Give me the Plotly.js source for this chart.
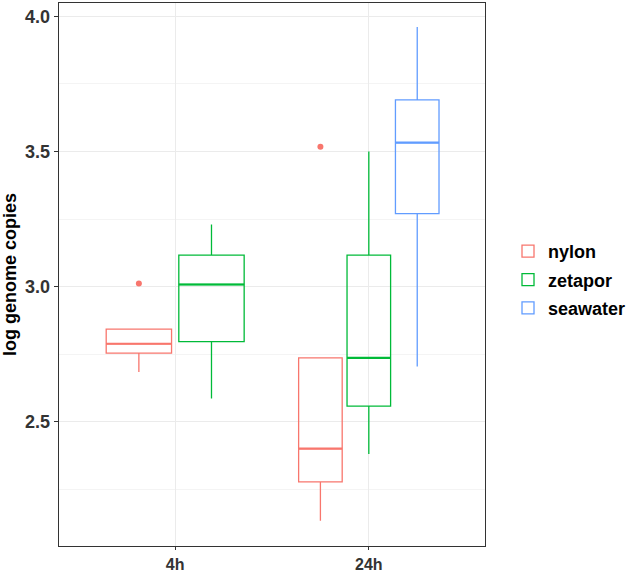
<!DOCTYPE html>
<html>
<head>
<meta charset="utf-8">
<script src="https://cdn.plot.ly/plotly-3.0.1.min.js"></script>
<style>html,body{margin:0;padding:0;background:#fff;}#chart{width:634px;height:575px;}</style>
</head>
<body>
<div id="chart"></div>
<script>
// Data
const categories = ['4h', '24h'];
const seriesNames = ['nylon', 'zetapor', 'seawater'];
const seriesColors = ['#F8766D', '#00BA38', '#619CFF'];

const nylonQ1 = [2.754, 2.278];
const nylonMedian = [2.789, 2.401];
const nylonQ3 = [2.843, 2.737];
const nylonLower = [2.684, 2.134];
const nylonUpper = [2.843, 2.737];
const nylonOutliers = [[3.012], [3.517]];

const zetaporQ1 = [2.797, 2.558];
const zetaporMedian = [3.008, 2.737];
const zetaporQ3 = [3.117, 3.117];
const zetaporLower = [2.586, 2.381];
const zetaporUpper = [3.230, 3.500];
const zetaporOutliers = [[], []];

const seawaterQ1 = [null, 3.270];
const seawaterMedian = [null, 3.533];
const seawaterQ3 = [null, 3.691];
const seawaterLower = [null, 2.705];
const seawaterUpper = [null, 3.960];
const seawaterOutliers = [[], []];

const yTicks = [2.5, 3.0, 3.5, 4.0];

const stats = [
  {q1: nylonQ1, med: nylonMedian, q3: nylonQ3, lo: nylonLower, hi: nylonUpper, out: nylonOutliers},
  {q1: zetaporQ1, med: zetaporMedian, q3: zetaporQ3, lo: zetaporLower, hi: zetaporUpper, out: zetaporOutliers},
  {q1: seawaterQ1, med: seawaterMedian, q3: seawaterQ3, lo: seawaterLower, hi: seawaterUpper, out: seawaterOutliers}
];

const traces = [];
const legendShown = [false, false, false];
const dodge = 0.75;
categories.forEach((cat, ci) => {
  const present = seriesNames.map((s, si) => si).filter(si => stats[si].med[ci] !== null);
  const n = present.length;
  present.forEach((si, k) => {
    const st = stats[si];
    const pos = (ci + 1) + (k - (n - 1) / 2) * dodge / n;
    const w = dodge / n * 0.9;
    traces.push({
      type: 'box',
      name: seriesNames[si],
      legendgroup: seriesNames[si],
      showlegend: !legendShown[si],
      x: [pos],
      q1: [st.q1[ci]], median: [st.med[ci]], q3: [st.q3[ci]],
      lowerfence: [st.lo[ci]], upperfence: [st.hi[ci]],
      width: w,
      whiskerwidth: 0,
      boxpoints: false,
      fillcolor: 'rgba(255,255,255,0)',
      line: {color: seriesColors[si], width: 1.3},
      hoverinfo: 'skip'
    });
    legendShown[si] = true;
    // thicker median line as in ggplot
    traces.push({
      type: 'scatter', mode: 'lines', showlegend: false, hoverinfo: 'skip',
      x: [pos - w / 2, pos + w / 2], y: [st.med[ci], st.med[ci]],
      line: {color: seriesColors[si], width: 2.2}
    });
    if (st.out[ci].length) {
      traces.push({
        type: 'scatter', mode: 'markers', showlegend: false, hoverinfo: 'skip',
        x: st.out[ci].map(() => pos), y: st.out[ci],
        marker: {color: seriesColors[si], size: 6}
      });
    }
  });
});

const fam = 'Liberation Sans, Arial, sans-serif';
const tickFont = {family: fam, size: 18, color: '#333333', weight: 'bold'};

const layout = {
  width: 634, height: 575,
  margin: {l: 59, r: 149, t: 3, b: 29},
  paper_bgcolor: '#ffffff', plot_bgcolor: '#ffffff',
  showlegend: true,
  legend: {
    x: 1.054, xanchor: 'left', y: 0.49, yanchor: 'middle',
    font: {family: fam, size: 18, color: '#000000', weight: 'bold'},
    tracegroupgap: 2, bgcolor: 'rgba(0,0,0,0)'
  },
  xaxis: {
    range: [0.4, 2.6],
    tickmode: 'array', tickvals: categories.map((c, i) => i + 1), ticktext: categories,
    tickfont: {family: fam, size: 16, color: '#333333', weight: 'bold'},
    showgrid: true, gridcolor: '#ebebeb', gridwidth: 1,
    zeroline: false,
    showline: true, mirror: true, linecolor: '#333333', linewidth: 1.3,
    ticks: 'outside', ticklen: 3, tickcolor: '#333333', tickwidth: 1
  },
  yaxis: {
    range: [2.041, 4.049],
    tickmode: 'array', tickvals: yTicks, ticktext: yTicks.map(v => v.toFixed(1)),
    tickfont: tickFont,
    title: {text: 'log genome copies', font: {family: fam, size: 18, color: '#000000', weight: 'bold'}, standoff: 4},
    showgrid: true, gridcolor: '#ebebeb', gridwidth: 1,
    minor: {tickvals: [2.25, 2.75, 3.25, 3.75], showgrid: true, gridcolor: '#f4f4f4', gridwidth: 1, ticks: ''},
    zeroline: false,
    showline: true, mirror: true, linecolor: '#333333', linewidth: 1.3,
    ticks: 'outside', ticklen: 4, tickcolor: '#333333', tickwidth: 1
  }
};

Plotly.newPlot('chart', traces, layout, {displayModeBar: false, staticPlot: true});
</script>
</body>
</html>
